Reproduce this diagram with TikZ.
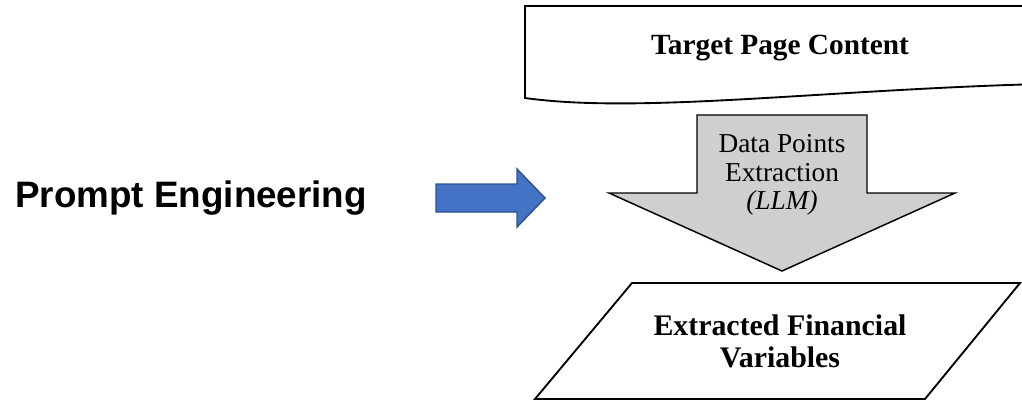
\documentclass[tikz,border=0pt]{standalone}
\usepackage{fontspec}
\setmainfont{Liberation Serif}
\newfontfamily\promptfont{Liberation Sans}
\usetikzlibrary{positioning}

\definecolor{arrowblue}{HTML}{4472C4}
\definecolor{arrowedge}{HTML}{2F528F}
\definecolor{stepgray}{HTML}{CFCFCF}

\begin{document}
\begin{tikzpicture}[x=0.75pt,y=-0.75pt,line join=miter,
    shapeline/.style={draw=black,line width=1.4pt},
    boxtext/.style={font=\fontsize{22}{24}\selectfont\bfseries,align=center,inner sep=0pt},
    steptext/.style={font=\fontsize{20.5}{21.5}\selectfont,align=center,inner sep=0pt}]

    \useasboundingbox (0,0) rectangle (1022,401);
    \clip (0,0) rectangle (1022,401);

    % document shape
    \draw[shapeline,fill=white] (1040,6) -- (525,6) -- (525,98)
        .. controls (640,114) and (820,90) .. (1040,84);
    \node[boxtext] (page) at (780,48) {Target Page Content};

    % process arrow
    \draw[line width=1.1pt,fill=stepgray] (697,115) -- (867,115) -- (867,193) -- (955,193)
        -- (782,271) -- (609,193) -- (697,193) -- cycle;
    \node[steptext] (extract) at (782,175) {Data Points\\Extraction\\\textit{(LLM)}};

    % output parallelogram
    \draw[shapeline,fill=white] (632,283) -- (1020,283) -- (925,399) -- (535,399) -- cycle;
    \node[boxtext,font=\fontsize{22.4}{24}\selectfont\bfseries] (vars) at (780,341) {Extracted Financial\\Variables};

    % prompt side
    \node[anchor=base west,inner sep=0pt,font=\promptfont\fontsize{27.6}{30}\selectfont\bfseries] (prompt) at (15,207) {Prompt Engineering};
    \draw[line width=1.1pt,draw=arrowedge,fill=arrowblue] (436,184) -- (517,184) -- (517,169)
        -- (545,198) -- (517,227) -- (517,212) -- (436,212) -- cycle;

\end{tikzpicture}
\end{document}
